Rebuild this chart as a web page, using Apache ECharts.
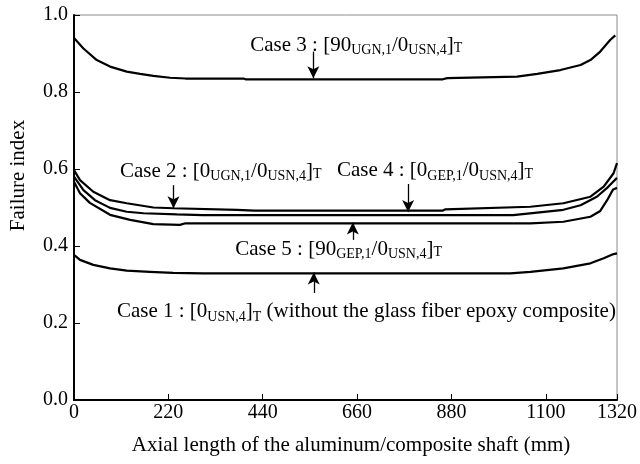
<!DOCTYPE html>
<html>
<head>
<meta charset="utf-8">
<script src="https://cdn.jsdelivr.net/npm/echarts@6/dist/echarts.min.js"></script>
<style>
  html, body { margin: 0; padding: 0; background: #fff; }
  #chart { width: 640px; height: 464px; }
</style>
</head>
<body>
<div id="chart"></div>
<script>
// Failure index along the shaft, one [position, index] list per lay-up case
const case1 = [[0,0.377],[14,0.364],[45,0.351],[84,0.342],[123,0.336],[177,0.333],[231,0.330],[300,0.329],[1017,0.329],[1064,0.333],[1141,0.342],[1204,0.355],[1235,0.368],[1258,0.379],[1266,0.381]];
const case2 = [[0,0.597],[14,0.571],[45,0.541],[84,0.519],[123,0.511],[185,0.500],[232,0.498],[380,0.494],[420,0.492],[860,0.492],[865,0.495],[1064,0.502],[1141,0.511],[1204,0.528],[1235,0.554],[1258,0.589],[1266,0.615]];
const case3 = [[0,0.940],[22,0.913],[53,0.883],[84,0.866],[123,0.853],[154,0.847],[185,0.842],[224,0.837],[260,0.835],[395,0.835],[400,0.833],[860,0.833],[870,0.836],[1033,0.840],[1080,0.847],[1134,0.857],[1181,0.870],[1204,0.883],[1227,0.905],[1250,0.935],[1262,0.947]];
const case4 = [[0,0.580],[22,0.545],[49,0.519],[84,0.499],[123,0.489],[162,0.485],[240,0.482],[300,0.480],[1024,0.480],[1141,0.494],[1181,0.506],[1219,0.528],[1243,0.551],[1257,0.567],[1266,0.577]];
const case5 = [[0,0.567],[14,0.537],[37,0.512],[84,0.481],[131,0.468],[185,0.457],[247,0.455],[260,0.459],[1064,0.459],[1141,0.463],[1204,0.476],[1227,0.491],[1243,0.519],[1257,0.547],[1266,0.551]];

// Axis ticks
const xMax = 1266;
const xTickLabels = ['0', '220', '440', '660', '880', '1100', '1320'];
const yTickLabels = ['0.0', '0.2', '0.4', '0.6', '0.8', '1.0'];

// Case captions: anchor [x, y] of the text's left edge, arrow [x, from, to]
const captions = {
  case1: { at: [100, 0.229], text: '{m|Case 1 : [0}{s|USN,4}{m|]}{s|T}{m| (without the glass fiber epoxy composite)}', arrow: [559, 0.278, 0.331] },
  case2: { at: [107, 0.593], text: '{m|Case 2 : [0}{s|UGN,1}{m|/0}{s|USN,4}{m|]}{t|T}', arrow: [232, 0.558, 0.498] },
  case3: { at: [411, 0.922], text: '{m|Case 3 : [90}{s|UGN,1}{m|/0}{s|USN,4}{m|]}{t|T}', arrow: [558, 0.905, 0.836] },
  case4: { at: [613, 0.595], text: '{m|Case 4 : [0}{s|GEP,1}{m|/0}{s|USN,4}{m|]}{t|T}', arrow: [779, 0.561, 0.488] },
  case5: { at: [376, 0.392], text: '{m|Case 5 : [90}{s|GEP,1}{m|/0}{s|USN,4}{m|]}{t|T}', arrow: [650, 0.416, 0.461] }
};

const FONT = 'Liberation Serif';
const rich = {
  m: { fontFamily: FONT, fontSize: 21, color: '#000' },
  s: { fontFamily: FONT, fontSize: 14, color: '#000', padding: [10, 0, 0, 0] },
  t: { fontFamily: FONT, fontSize: 14, color: '#000', padding: [6, 0, 0, 0] }
};

function curve(name, data) {
  const c = captions[name];
  return {
    name: name,
    type: 'line',
    data: data,
    showSymbol: false,
    symbol: 'none',
    silent: true,
    lineStyle: { color: '#000', width: 2.2 },
    markPoint: {
      silent: true,
      symbol: 'circle',
      symbolSize: 0,
      data: [{ coord: c.at }],
      label: {
        show: true,
        position: 'right',
        distance: 0,
        formatter: c.text,
        rich: rich
      }
    },
    markLine: {
      silent: true,
      symbol: ['none', 'arrow'],
      symbolSize: [9, 12],
      label: { show: false },
      lineStyle: { color: '#000', width: 1.3, type: 'solid' },
      data: [[{ coord: [c.arrow[0], c.arrow[1]] }, { coord: [c.arrow[0], c.arrow[2]] }]]
    }
  };
}

const chart = echarts.init(document.getElementById('chart'), null, { renderer: 'canvas' });
chart.setOption({
  animation: false,
  backgroundColor: '#fff',
  textStyle: { fontFamily: FONT },
  grid: {
    left: 74, right: 23, top: 15, bottom: 64,
    show: true, borderColor: '#8a8a8a', borderWidth: 1, backgroundColor: 'transparent'
  },
  xAxis: {
    type: 'value',
    min: 0,
    max: xMax,
    interval: 220,
    name: 'Axial length of the aluminum/composite shaft (mm)',
    nameLocation: 'middle',
    nameGap: 35,
    nameTextStyle: { fontFamily: FONT, fontSize: 21, color: '#000', padding: [0, 0, 0, 11] },
    axisLine: { show: true, lineStyle: { color: '#000', width: 2 } },
    axisTick: { show: true, inside: true, length: 6, lineStyle: { color: '#000', width: 1 } },
    splitLine: { show: false },
    axisLabel: {
      margin: 3,
      fontFamily: FONT, fontSize: 20, color: '#000',
      formatter: (v, i) => xTickLabels[i]
    }
  },
  yAxis: {
    type: 'value',
    min: 0,
    max: 1,
    interval: 0.2,
    name: 'Failure index',
    nameLocation: 'middle',
    nameGap: 45,
    nameTextStyle: { fontFamily: FONT, fontSize: 21, color: '#000', padding: [0, 0, 0, 64] },
    axisLine: { show: true, lineStyle: { color: '#000', width: 2 } },
    axisTick: { show: true, inside: true, length: 6, lineStyle: { color: '#000', width: 1 } },
    splitLine: { show: false },
    axisLabel: {
      margin: 6,
      fontFamily: FONT, fontSize: 20, color: '#000',
      formatter: (v, i) => yTickLabels[i]
    }
  },
  series: [
    curve('case1', case1),
    curve('case2', case2),
    curve('case3', case3),
    curve('case4', case4),
    curve('case5', case5)
  ]
});
</script>
</body>
</html>
